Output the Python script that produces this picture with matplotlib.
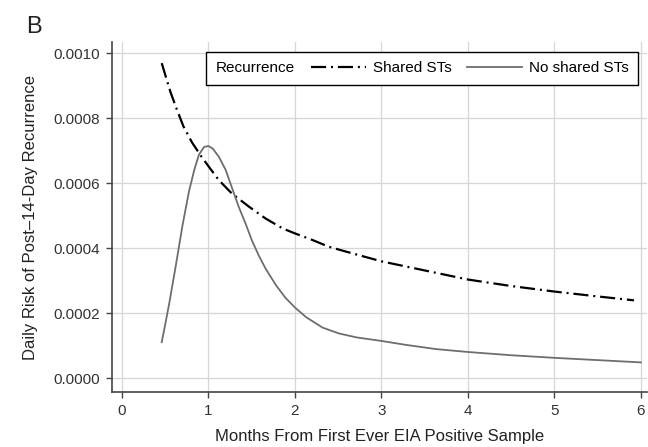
import matplotlib
matplotlib.use("Agg")
import matplotlib.pyplot as plt
from matplotlib.offsetbox import HPacker

plt.rcParams['font.family'] = ['Liberation Sans', 'DejaVu Sans']

# values
shared_x = [0.46, 0.56, 0.63, 0.71, 0.81, 0.93, 1.12, 1.27, 1.47, 1.66, 1.86,
            2.0, 2.2, 2.39, 2.59, 3.0, 3.5, 4.0, 4.5, 5.0, 5.5, 5.92]
shared_y = [0.00097, 0.000882, 0.000831, 0.000776, 0.000726, 0.000678, 0.00061,
            0.000569, 0.000528, 0.000492, 0.000461, 0.000446, 0.000426,
            0.000405, 0.00039, 0.00036, 0.000332, 0.000304, 0.000284, 0.000267,
            0.000252, 0.00024]

noshared_x = [0.46, 0.50, 0.55, 0.625, 0.70, 0.775, 0.835, 0.89, 0.95, 1.0,
              1.05, 1.12, 1.20, 1.27, 1.35, 1.43, 1.50, 1.58, 1.66, 1.78, 1.89,
              2.0, 2.13, 2.32, 2.51, 2.71, 3.0, 3.28, 3.63, 4.0, 4.5, 5.0, 5.5,
              6.0]
noshared_y = [0.000111, 0.000165, 0.000235, 0.00035, 0.00047, 0.000575,
              0.00064, 0.000688, 0.000712, 0.000715, 0.000707, 0.000682,
              0.000641, 0.000588, 0.000528, 0.000476, 0.000426, 0.000379,
              0.000338, 0.000287, 0.000248, 0.000218, 0.000188, 0.000156,
              0.000138, 0.000126, 0.000115, 0.000103, 0.00009, 0.000081,
              0.000071, 0.000063, 0.000056, 0.000049]

xticks = [0, 1, 2, 3, 4, 5, 6]
yticks = [0.0, 0.0002, 0.0004, 0.0006, 0.0008, 0.0010]

fig = plt.figure(figsize=(6.48, 4.47), dpi=100)
ax = fig.add_axes([0.1728, 0.123, 0.8256, 0.783])

l1, = ax.plot(shared_x, shared_y, color='black', lw=1.6,
              dashes=(6.8, 2.2, 0.9, 2.2))
l2, = ax.plot(noshared_x, noshared_y, color='#6e6e6e', lw=1.3)

ax.set_xlim(-0.115, 6.07)
ax.set_ylim(-0.0000422, 0.001035)
ax.set_xticks(xticks)
ax.set_yticks(yticks)
ax.set_yticklabels(['%.4f' % v for v in yticks])
ax.grid(True, color='#d6d6d6', lw=0.9)
ax.set_axisbelow(True)
for s in ['top', 'right']:
    ax.spines[s].set_visible(False)
for s in ['left', 'bottom']:
    ax.spines[s].set_color('#444444')
    ax.spines[s].set_linewidth(1.2)
ax.tick_params(length=4.3, width=1, color='#444444', labelsize=11,
               labelcolor='#333333', pad=4)

ax.set_xlabel('Months From First Ever EIA Positive Sample', fontsize=12,
              color='#222222')
ax.set_ylabel('Daily Risk of Post\u201314-Day Recurrence', fontsize=12,
              color='#222222')
ax.xaxis.set_label_coords(0.5, -0.106)
ax.yaxis.set_label_coords(-0.138, 0.5)

leg = ax.legend([l1, l2], ['Shared STs', 'No shared STs'], ncol=2,
                title='Recurrence', title_fontsize=11, fontsize=11,
                loc='upper right', bbox_to_anchor=(0.983, 0.971),
                borderaxespad=0, handlelength=3.6, handletextpad=0.45,
                columnspacing=1.0, borderpad=0.6, fancybox=False,
                framealpha=1, edgecolor='black')
leg.get_frame().set_linewidth(1.0)
# put the title to the left of the entries, on one row
fs = leg._fontsize
leg._legend_box = HPacker(pad=leg.borderpad * fs, sep=12, align='center',
                          children=[leg._legend_title_box,
                                    leg._legend_handle_box])
leg._legend_box.set_figure(fig)
leg._legend_box.axes = ax
leg._set_loc(leg._loc)

fig.text(26 / 648, 1 - 33 / 447, 'B', fontsize=17, va='baseline',
         color='#222222')

plt.savefig('out.png', dpi=100)
